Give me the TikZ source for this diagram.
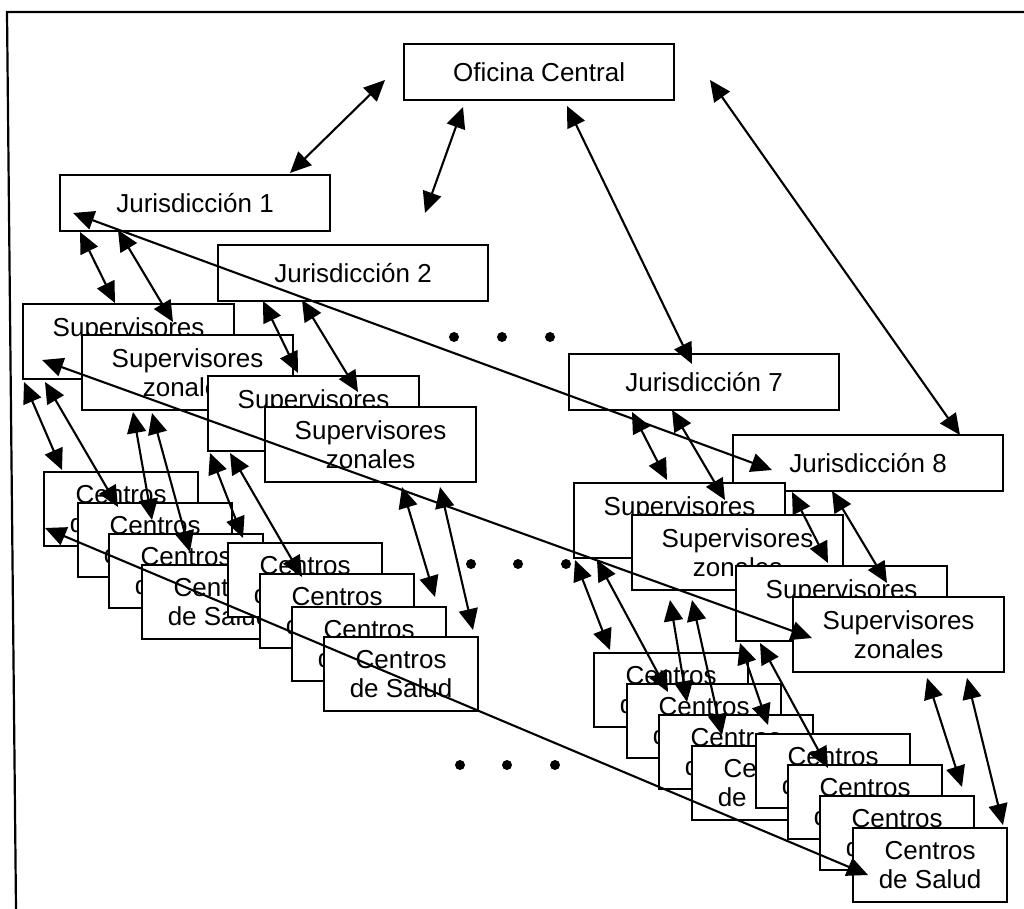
\documentclass[tikz,border=0pt]{standalone}
\usepackage{fontspec}
\setmainfont{Liberation Sans}
\usetikzlibrary{arrows.meta}
\begin{document}
\begin{tikzpicture}[x=1pt,y=-1pt,
  box/.style={draw,line width=2.2pt,fill=white,inner sep=0pt,anchor=north west,
    align=center,font=\fontsize{26}{29.5}\selectfont},
  topbox/.style={box,minimum width=270pt,minimum height=56pt},
  supbox/.style={box,minimum width=211pt,minimum height=75pt},
  cenbox/.style={box,minimum width=154pt,minimum height=74pt},
  link/.style={line width=2.1pt,
    {Triangle[length=21pt,width=19pt]}-{Triangle[length=21pt,width=19pt]}},
  frameline/.style={line width=2.2pt}
]
\useasboundingbox (0,0) rectangle (1024,909);

% outer frame (top and left sides)
\draw[frameline] (1024,12) -- (7,12) -- (16,909);

% head office and jurisdictions
\node[topbox] (ofi) at (403,43) {Oficina Central};
\node[topbox] (j1) at (59,174) {Jurisdicción 1};
\node[topbox] (j2) at (217,244) {Jurisdicción 2};
\node[topbox] (j7) at (568,353) {Jurisdicción 7};
\node[topbox] (j8) at (732,434) {Jurisdicción 8};

% zone supervisors
\node[supbox] (s1a) at (22,303)  {Supervisores\\zonales};
\node[supbox] (s1b) at (81,334)  {Supervisores\\zonales};
\node[supbox] (s2a) at (207,375) {Supervisores\\zonales};
\node[supbox] (s2b) at (264,406) {Supervisores\\zonales};
\node[supbox] (s7a) at (573,482) {Supervisores\\zonales};
\node[supbox] (s7b) at (631,514) {Supervisores\\zonales};
\node[supbox] (s8a) at (735,565) {Supervisores\\zonales};
\node[supbox] (s8b) at (792,596) {Supervisores\\zonales};

% health centres
\node[cenbox] (c1a) at (43,471)  {Centros\\de Salud};
\node[cenbox] (c1b) at (77,502)  {Centros\\de Salud};
\node[cenbox] (c1c) at (108,533) {Centros\\de Salud};
\node[cenbox] (c1d) at (141,564) {Centros\\de Salud};
\node[cenbox] (c2a) at (227,542) {Centros\\de Salud};
\node[cenbox] (c2b) at (259,573) {Centros\\de Salud};
\node[cenbox] (c2c) at (291,606) {Centros\\de Salud};
\node[cenbox] (c2d) at (323,636) {Centros\\de Salud};
\node[cenbox] (c7a) at (593,652) {Centros\\de Salud};
\node[cenbox] (c7b) at (626,683) {Centros\\de Salud};
\node[cenbox] (c7c) at (658,714) {Centros\\de Salud};
\node[cenbox] (c7d) at (691,745) {Centros\\de Salud};
\node[cenbox] (c8a) at (755,733) {Centros\\de Salud};
\node[cenbox] (c8b) at (787,764) {Centros\\de Salud};
\node[cenbox] (c8c) at (819,795) {Centros\\de Salud};
\node[cenbox] (c8d) at (852,827) {Centros\\de Salud};

% ellipsis dots
\foreach \px/\py in {454/337,502/337,550/337,471/564,518/564,566/564,460/765,507/765,555/765}
  \fill (\px,\py) circle (5pt);

% free end of the head-office link toward the omitted jurisdictions
\coordinate (jmid) at (425,213);

% head office links
\draw[link] ([shift={(-18,37)}]ofi.north west) -- ([shift={(231,-1)}]j1.north west);
\draw[link] ([shift={(60,64)}]ofi.north west) -- (jmid);
\draw[link] ([shift={(164,63)}]ofi.north west) -- ([shift={(124,11)}]j7.north west);
\draw[link] ([shift={(307,37)}]ofi.north west) -- ([shift={(228,1)}]j8.north west);

% long links across the levels
\draw[link] ([shift={(14,39)}]j1.north west) -- ([shift={(40,36)}]j8.north west);
\draw[link] ([shift={(20,57)}]s1a.north west) -- ([shift={(20,42)}]s8b.north west);
\draw[link] ([shift={(2,57)}]c1a.north west) -- ([shift={(16,48)}]c8d.north west);

% jurisdictions to supervisors
\draw[link] ([shift={(21,58)}]j1.north west) -- ([shift={(93,0)}]s1a.north west);
\draw[link] ([shift={(59,56)}]j1.north west) -- ([shift={(92,-12)}]s1b.north west);
\draw[link] ([shift={(46,57)}]j2.north west) -- ([shift={(91,-2)}]s2a.north west);
\draw[link] ([shift={(85,56)}]j2.north west) -- ([shift={(94,-14)}]s2b.north west);
\draw[link] ([shift={(64,59)}]j7.north west) -- ([shift={(94,-2)}]s7a.north west);
\draw[link] ([shift={(104,57)}]j7.north west) -- ([shift={(94,-14)}]s7b.north west);
\draw[link] ([shift={(60,58)}]j8.north west) -- ([shift={(93,-2)}]s8a.north west);
\draw[link] ([shift={(100,57)}]j8.north west) -- ([shift={(95,-13)}]s8b.north west);

% supervisors to health centres
\draw[link] ([shift={(2,79)}]s1a.north west) -- ([shift={(19,-1)}]c1a.north west);
\draw[link] ([shift={(23,79)}]s1a.north west) -- ([shift={(41,5)}]c1b.north west);
\draw[link] ([shift={(52,78)}]s1b.north west) -- ([shift={(44,-13)}]c1c.north west);
\draw[link] ([shift={(71,79)}]s1b.north west) -- ([shift={(49,-12)}]c1d.north west);
\draw[link] ([shift={(3,78)}]s2a.north west) -- ([shift={(16,-4)}]c2a.north west);
\draw[link] ([shift={(23,78)}]s2a.north west) -- ([shift={(43,4)}]c2b.north west);
\draw[link] ([shift={(138,81)}]s2b.north west) -- ([shift={(144,-9)}]c2c.north west);
\draw[link] ([shift={(176,81)}]s2b.north west) -- ([shift={(150,-6)}]c2d.north west);
\draw[link] ([shift={(2,78)}]s7a.north west) -- ([shift={(17,-2)}]c7a.north west);
\draw[link] ([shift={(24,78)}]s7a.north west) -- ([shift={(42,9)}]c7b.north west);
\draw[link] ([shift={(39,86)}]s7b.north west) -- ([shift={(29,-12)}]c7c.north west);
\draw[link] ([shift={(61,86)}]s7b.north west) -- ([shift={(31,-10)}]c7d.north west);
\draw[link] ([shift={(5,78)}]s8a.north west) -- ([shift={(13,-8)}]c8a.north west);
\draw[link] ([shift={(25,78)}]s8a.north west) -- ([shift={(41,4)}]c8b.north west);
\draw[link] ([shift={(135,82)}]s8b.north west) -- ([shift={(143,-8)}]c8c.north west);
\draw[link] ([shift={(175,82)}]s8b.north west) -- ([shift={(151,-2)}]c8d.north west);
\end{tikzpicture}
\end{document}
